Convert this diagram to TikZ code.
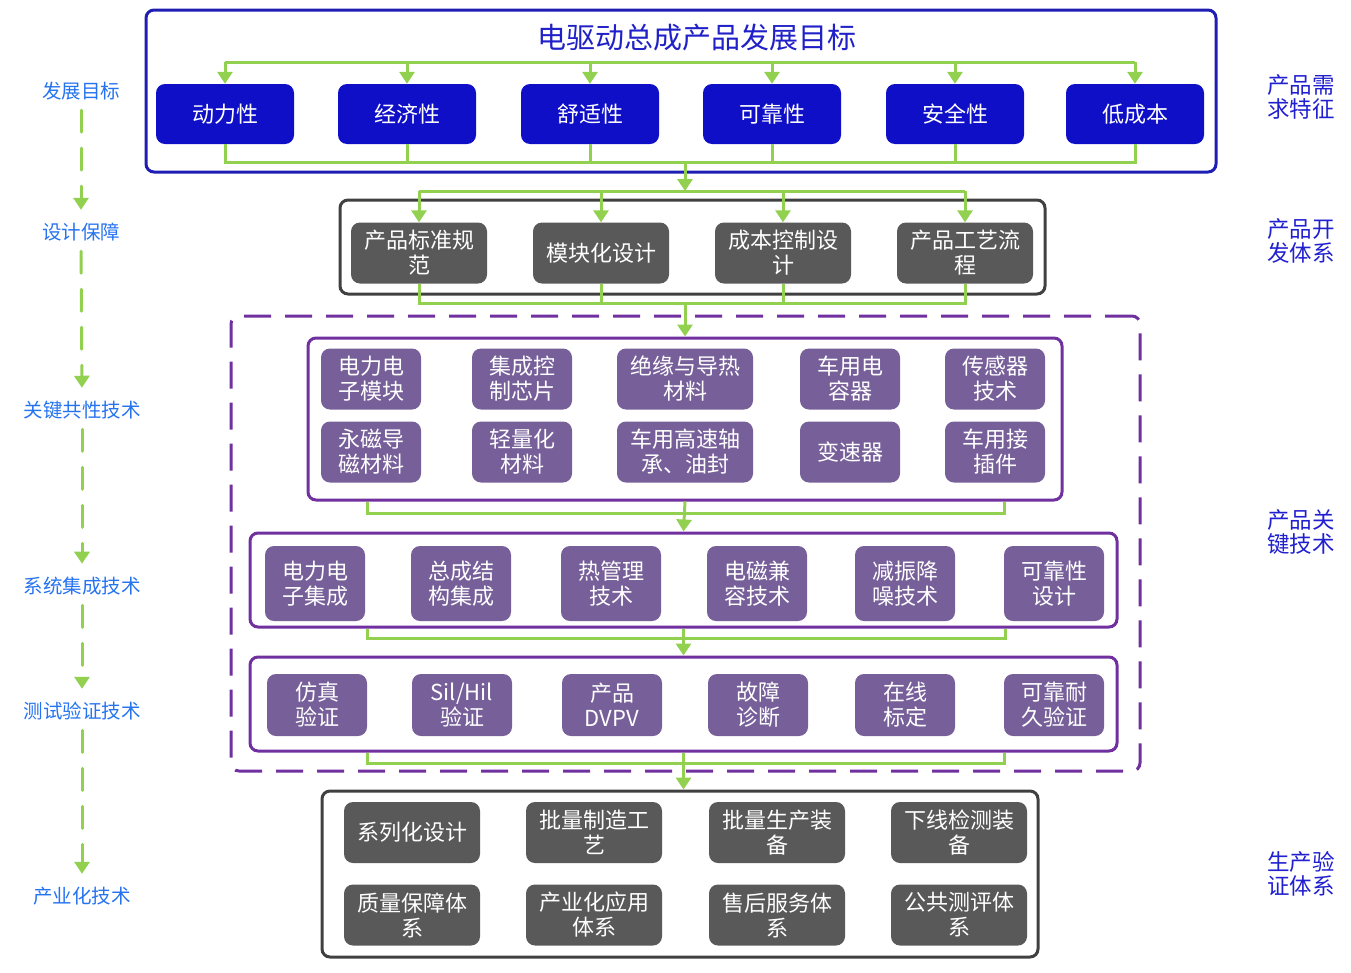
\documentclass[tikz,border=0pt]{standalone}
\usepackage{fontspec}
\setmainfont{Noto Sans CJK SC}
\usetikzlibrary{arrows.meta}
\definecolor{bluefill}{HTML}{0F0FC8}
\definecolor{blueline}{HTML}{1E1EB4}
\definecolor{titleblue}{HTML}{2020C8}
\definecolor{grayfill}{HTML}{595959}
\definecolor{grayline}{HTML}{404040}
\definecolor{purplefill}{HTML}{77609A}
\definecolor{purpleline}{HTML}{7030A0}
\definecolor{lgreen}{HTML}{92D050}
\definecolor{leftblue}{HTML}{2673F0}
\definecolor{rightblue}{HTML}{2020D0}
\begin{document}
\begin{tikzpicture}[x=1pt,y=-1pt,
  gline/.style={draw=lgreen, line width=3pt},
  garrow/.style={gline, -{Triangle[width=15pt,length=12pt]}},
  gdash/.style={draw=lgreen, line width=3pt, dash pattern=on 22pt off 16pt, line cap=round, -{Triangle[width=15pt,length=12pt]}},
  base/.style={rounded corners=9pt, text=white, align=center, font=\fontsize{22}{25}\selectfont, inner sep=0pt},
  bnode/.style={base, fill=bluefill, minimum width=138pt, minimum height=60pt},
  gnode/.style={base, fill=grayfill, minimum width=136pt, minimum height=61pt},
  pnode/.style={base, fill=purplefill},
  frame/.style={rounded corners=8pt, line width=3pt, inner sep=0pt},
  leftlab/.style={text=leftblue, font=\fontsize{19.5}{21}\selectfont, inner sep=0pt, minimum height=18pt},
  rightlab/.style={text=rightblue, font=\fontsize{22.5}{23.5}\selectfont, align=left, anchor=west, inner sep=0pt}
]
\useasboundingbox (0,0) rectangle (1351,972);

% ---------- frames ----------
\node[frame, draw=blueline, minimum width=1070pt, minimum height=162pt] (topbox) at (681,91) {};
\node[frame, draw=grayline, minimum width=705pt, minimum height=94pt] (grpbox) at (692.5,247) {};
\node[frame, draw=purpleline, dash pattern=on 27pt off 14pt, minimum width=909pt, minimum height=455pt] (dashbox) at (685.5,543.5) {};
\node[frame, draw=purpleline, minimum width=754pt, minimum height=162pt] (pb1) at (685,419) {};
\node[frame, draw=purpleline, minimum width=867pt, minimum height=94pt] (pb2) at (683.5,580) {};
\node[frame, draw=purpleline, minimum width=867pt, minimum height=94pt] (pb3) at (683.5,704) {};
\node[frame, draw=grayline, minimum width=716pt, minimum height=166pt] (box4) at (680,874) {};

% ---------- title ----------
\node[text=titleblue, font=\fontsize{29}{31}\selectfont, inner sep=0pt] (title) at (697,38) {电驱动总成产品发展目标};

% ---------- top nodes ----------
\foreach \n/\x/\t in {1/225/动力性, 2/407/经济性, 3/590/舒适性, 4/772/可靠性, 5/955/安全性, 6/1135/低成本}
  \node[bnode] (b\n) at (\x,114) {\t};

% ---------- group 2 ----------
\node[gnode] (g1) at (419,253) {产品标准规\\范};
\node[gnode] (g2) at (601,253) {模块化设计};
\node[gnode] (g3) at (783,253) {成本控制设\\计};
\node[gnode] (g4) at (965,253) {产品工艺流\\程};

% ---------- purple box 1 ----------
\foreach \n/\x/\w/\t in {1/371/100/电力电\\子模块, 2/522/100/集成控\\制芯片, 3/685/136/绝缘与导热\\材料, 4/850/100/车用电\\容器, 5/995/100/传感器\\技术}
  \node[pnode, minimum width=\w pt, minimum height=61pt] (k\n) at (\x,379) {\t};
\foreach \n/\x/\w/\t in {6/371/100/永磁导\\磁材料, 7/522/100/轻量化\\材料, 8/685/136/车用高速轴\\承、油封, 9/850/100/变速器, 10/995/100/车用接\\插件}
  \node[pnode, minimum width=\w pt, minimum height=61pt] (k\n) at (\x,452) {\t};

% ---------- purple box 2 ----------
\foreach \n/\x/\t in {1/315/电力电\\子集成, 2/461/总成结\\构集成, 3/611/热管理\\技术, 4/757/电磁兼\\容技术, 5/905/减振降\\噪技术, 6/1054/可靠性\\设计}
  \node[pnode, minimum width=100pt, minimum height=75pt] (s\n) at (\x,583.5) {\t};

% ---------- purple box 3 ----------
\foreach \n/\x/\t in {1/317/{仿真\\验证}, 2/462/{Sil/Hil\\验证}, 3/612/{产品\\DVPV}, 4/758/{故障\\诊断}, 5/905/{在线\\标定}, 6/1054/{可靠耐\\久验证}}
  \node[pnode, minimum width=100pt, minimum height=62pt] (v\n) at (\x,705) {\t};

% ---------- box 4 ----------
\node[gnode] (p1) at (412,832.5) {系列化设计};
\node[gnode] (p2) at (594,832.5) {批量制造工\\艺};
\node[gnode] (p3) at (777,832.5) {批量生产装\\备};
\node[gnode] (p4) at (959,832.5) {下线检测装\\备};
\node[gnode] (p5) at (412,915) {质量保障体\\系};
\node[gnode] (p6) at (594,915) {产业化应用\\体系};
\node[gnode] (p7) at (777,915) {售后服务体\\系};
\node[gnode] (p8) at (959,915) {公共测评体\\系};

% ---------- green connectors: top ----------
\coordinate (t1) at (225,62);
\draw[gline] (b1.north |- t1) -- (b6.north |- t1);
\foreach \n in {1,...,6} \draw[garrow] (b\n.north |- t1) -- (b\n.north);
\coordinate (u1) at (685,162);
\draw[gline] (b1.south) |- (b6.south |- u1) -- (b6.south);
\foreach \n in {2,...,5} \draw[gline] (b\n.south) -- (b\n.south |- u1);
\coordinate (u2) at (685,191);
\draw[garrow] (u1) -- (u2);

% ---------- group 2 connectors ----------
\draw[gline] (g1.north |- u2) -- (g4.north |- u2);
\foreach \n in {1,...,4} \draw[garrow] (g\n.north |- u2) -- (g\n.north);
\coordinate (u3) at (685,303);
\draw[gline] (g1.south) |- (g4.south |- u3) -- (g4.south);
\foreach \n in {2,3} \draw[gline] (g\n.south) -- (g\n.south |- u3);
\draw[garrow] (u3) -- (pb1.north);

% ---------- purple boxes connectors ----------
\draw[gline] (pb1.south -| 367,0) |- (1004,513) -- (pb1.south -| 1004,0);
\draw[garrow] (pb1.south) -- (pb2.north);
\draw[gline] (pb2.south -| 367,0) |- (1005,638) -- (pb2.south -| 1005,0);
\draw[garrow] (pb2.south) -- (pb3.north);
\draw[gline] (pb3.south -| 367,0) |- (1004,763) -- (pb3.south -| 1004,0);
\draw[garrow] (pb3.south) -- (pb3.south |- box4.north);

% ---------- left labels ----------
\node[leftlab] (L1) at (81,91) {发展目标};
\node[leftlab] (L2) at (81,232) {设计保障};
\node[leftlab] (L3) at (82,410) {关键共性技术};
\node[leftlab] (L4) at (82,586) {系统集成技术};
\node[leftlab] (L5) at (82,711) {测试验证技术};
\node[leftlab] (L6) at (82,896) {产业化技术};
\draw[gdash, shorten <=10pt, shorten >=13pt] (L1.south) -- (L2.north);
\draw[gdash, shorten <=10pt, shorten >=13pt] (L2.south) -- (L3.north);
\draw[gdash, shorten <=10pt, shorten >=13pt] (L3.south) -- (L4.north);
\draw[gdash, shorten <=10pt, shorten >=13pt] (L4.south) -- (L5.north);
\draw[gdash, shorten <=10pt, shorten >=13pt] (L5.south) -- (L6.north);

% ---------- right labels ----------
\node[rightlab] (R1) at (1267,97) {产品需\\求特征};
\node[rightlab] (R2) at (1267,241) {产品开\\发体系};
\node[rightlab] (R3) at (1267,532) {产品关\\键技术};
\node[rightlab] (R4) at (1267,874) {生产验\\证体系};
\end{tikzpicture}
\end{document}
